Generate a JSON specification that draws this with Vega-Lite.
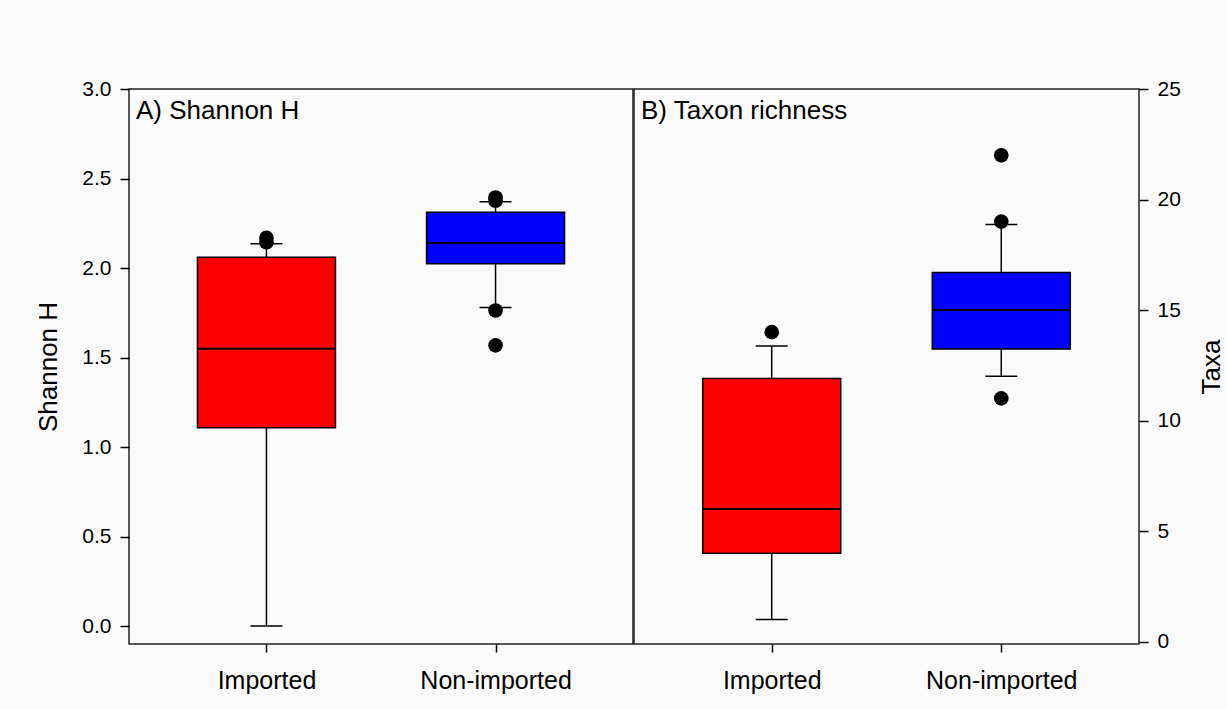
{
  "$schema": "https://vega.github.io/schema/vega-lite/v6.json",
  "autosize": {"type": "none"},
  "padding": {"left": 129, "top": 89, "right": 1098, "bottom": 620},
  "background": "#fafafa",
  "spacing": -2,
  "datasets": {
    "shannon": [
      {"group": "Imported", "lo": 0.0, "q1": 1.108, "med": 1.549, "q3": 2.06, "hi": 2.136},
      {"group": "Non-imported", "lo": 1.78, "q1": 2.024, "med": 2.14, "q3": 2.311, "hi": 2.37}
    ],
    "shannonOut": [
      {"group": "Imported", "v": 2.168},
      {"group": "Imported", "v": 2.144},
      {"group": "Non-imported", "v": 2.394},
      {"group": "Non-imported", "v": 2.376},
      {"group": "Non-imported", "v": 1.763},
      {"group": "Non-imported", "v": 1.568}
    ],
    "taxa": [
      {"group": "Imported", "lo": 1.0, "q1": 4.0, "med": 6.0, "q3": 11.9, "hi": 13.37},
      {"group": "Non-imported", "lo": 12.0, "q1": 13.24, "med": 15.0, "q3": 16.7, "hi": 18.87}
    ],
    "taxaOut": [
      {"group": "Imported", "v": 14},
      {"group": "Non-imported", "v": 19},
      {"group": "Non-imported", "v": 22},
      {"group": "Non-imported", "v": 11}
    ]
  },
  "hconcat": [
    {
      "width": 504,
      "height": 555,
      "title": {"text": "A) Shannon H", "anchor": "start", "frame": "group", "offset": -46, "dx": 7, "font": "Liberation Sans", "fontSize": 26, "fontWeight": "normal", "color": "black"},
      "encoding": {
        "x": {"field": "group", "type": "nominal", "sort": ["Imported", "Non-imported"], "scale": {"type": "point", "padding": 0.6},
          "axis": {"title": null, "tickSize": 8, "labelPadding": 16, "labelAngle": 0, "labelFontSize": 25}}
      },
      "layer": [
        {
          "data": {"name": "shannon"},
          "mark": {"type": "rule", "color": "black", "strokeWidth": 1.5},
          "encoding": {
            "y": {"field": "lo", "type": "quantitative", "title": "Shannon H", "scale": {"domain": [-0.1, 3.0], "nice": false, "zero": false},
              "axis": {"orient": "left", "values": [0, 0.5, 1, 1.5, 2, 2.5, 3], "format": ".1f", "tickSize": 9, "labelPadding": 9, "labelFontSize": 21, "titlePadding": 20, "titleFontSize": 26}},
            "y2": {"field": "hi"}
          }
        },
        {
          "data": {"name": "shannon"},
          "mark": {"type": "bar", "width": 138, "stroke": "black", "strokeWidth": 1.5, "opacity": 1},
          "encoding": {
            "y": {"field": "q1", "type": "quantitative", "title": "Shannon H"},
            "y2": {"field": "q3"},
            "color": {"field": "group", "type": "nominal", "scale": {"domain": ["Imported", "Non-imported"], "range": ["#ff0000", "#0000ff"]}, "legend": null}
          }
        },
        {
          "data": {"name": "shannon"},
          "mark": {"type": "tick", "size": 138, "thickness": 2, "color": "black", "opacity": 1},
          "encoding": {"y": {"field": "med", "type": "quantitative", "title": "Shannon H"}}
        },
        {
          "data": {"name": "shannon"},
          "mark": {"type": "tick", "size": 32, "thickness": 1.5, "color": "black", "opacity": 1},
          "encoding": {"y": {"field": "lo", "type": "quantitative", "title": "Shannon H"}}
        },
        {
          "data": {"name": "shannon"},
          "mark": {"type": "tick", "size": 32, "thickness": 1.5, "color": "black", "opacity": 1},
          "encoding": {"y": {"field": "hi", "type": "quantitative", "title": "Shannon H"}}
        },
        {
          "data": {"name": "shannonOut"},
          "mark": {"type": "point", "shape": "circle", "filled": true, "size": 215, "color": "black", "opacity": 1},
          "encoding": {"y": {"field": "v", "type": "quantitative", "title": "Shannon H"}}
        }
      ]
    },
    {
      "width": 505,
      "height": 555,
      "title": {"text": "B) Taxon richness", "anchor": "start", "frame": "group", "offset": -46, "dx": 7, "font": "Liberation Sans", "fontSize": 26, "fontWeight": "normal", "color": "black"},
      "encoding": {
        "x": {"field": "group", "type": "nominal", "sort": ["Imported", "Non-imported"], "scale": {"type": "point", "padding": 0.6},
          "axis": {"title": null, "tickSize": 8, "labelPadding": 16, "labelAngle": 0, "labelFontSize": 25}}
      },
      "layer": [
        {
          "data": {"name": "taxa"},
          "mark": {"type": "rule", "color": "black", "strokeWidth": 1.5},
          "encoding": {
            "y": {"field": "lo", "type": "quantitative", "title": "Taxa", "scale": {"domain": [-0.11, 25], "nice": false, "zero": false},
              "axis": {"orient": "right", "values": [0, 5, 10, 15, 20, 25], "format": "d", "tickSize": 9, "labelPadding": 9, "labelFontSize": 21, "titlePadding": 18, "titleFontSize": 26, "titleAngle": 270, "titleBaseline": "top"}},
            "y2": {"field": "hi"}
          }
        },
        {
          "data": {"name": "taxa"},
          "mark": {"type": "bar", "width": 138, "stroke": "black", "strokeWidth": 1.5, "opacity": 1},
          "encoding": {
            "y": {"field": "q1", "type": "quantitative", "title": "Taxa"},
            "y2": {"field": "q3"},
            "color": {"field": "group", "type": "nominal", "scale": {"domain": ["Imported", "Non-imported"], "range": ["#ff0000", "#0000ff"]}, "legend": null}
          }
        },
        {
          "data": {"name": "taxa"},
          "mark": {"type": "tick", "size": 138, "thickness": 2, "color": "black", "opacity": 1},
          "encoding": {"y": {"field": "med", "type": "quantitative", "title": "Taxa"}}
        },
        {
          "data": {"name": "taxa"},
          "mark": {"type": "tick", "size": 32, "thickness": 1.5, "color": "black", "opacity": 1},
          "encoding": {"y": {"field": "lo", "type": "quantitative", "title": "Taxa"}}
        },
        {
          "data": {"name": "taxa"},
          "mark": {"type": "tick", "size": 32, "thickness": 1.5, "color": "black", "opacity": 1},
          "encoding": {"y": {"field": "hi", "type": "quantitative", "title": "Taxa"}}
        },
        {
          "data": {"name": "taxaOut"},
          "mark": {"type": "point", "shape": "circle", "filled": true, "size": 215, "color": "black", "opacity": 1},
          "encoding": {"y": {"field": "v", "type": "quantitative", "title": "Taxa"}}
        }
      ]
    }
  ],
  "config": {
    "font": "Liberation Sans",
    "view": {"stroke": "#222222", "strokeWidth": 1.5, "fill": "#fafafa"},
    "axis": {
      "domain": false,
      "grid": false,
      "ticks": true,
      "tickColor": "black",
      "tickWidth": 1.5,
      "labelFont": "Liberation Sans",
      "labelColor": "black",
      "titleFont": "Liberation Sans",
      "titleColor": "black",
      "titleFontWeight": "normal",
      "titleFontSize": 26
    }
  }
}
